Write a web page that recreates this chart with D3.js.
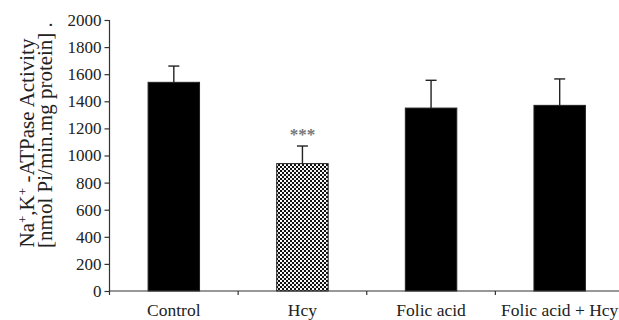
<!DOCTYPE html>
<html lang="en">
    <head>
        <meta charset="utf-8">
        <title>Na+,K+-ATPase activity</title>
        <script type="text/javascript" src="https://cdn.jsdelivr.net/npm/d3@7"></script>
        <style type="text/css">
            body { margin: 0; background: #fff; }
            text { font-family: "Liberation Serif", "Times New Roman", serif; fill: #222; }
        </style>
    </head>

    <body>
        <script type="text/javascript">
            // Data
            var groups = ["Control", "Hcy", "Folic acid", "Folic acid + Hcy"];
            var means = [1540, 940, 1350, 1370];
            var errors = [120, 130, 205, 195];
            var patterned = [false, true, false, false];
            var yTicks = [0, 200, 400, 600, 800, 1000, 1200, 1400, 1600, 1800, 2000];

            var w = 619;
            var h = 320;
            // plot edges (note: "top" is reserved on window, so use other names)
            var plotLeft = 109.5, plotRight = 624, plotTop = 20, plotBottom = 291;

            var svg = d3.select("body")
                        .append("svg")
                        .attr("width", w)
                        .attr("height", h);

            // checkerboard fill for the Hcy bar
            var pat = svg.append("defs")
                         .append("pattern")
                         .attr("id", "checks")
                         .attr("patternUnits", "userSpaceOnUse")
                         .attr("width", 4)
                         .attr("height", 4);
            pat.append("rect").attr("width", 4).attr("height", 4).attr("fill", "#111");
            pat.append("rect").attr("width", 2).attr("height", 2).attr("fill", "#fff");
            pat.append("rect").attr("x", 2).attr("y", 2).attr("width", 2).attr("height", 2).attr("fill", "#eee");

            var xScale = d3.scaleBand()
                           .domain(groups)
                           .range([plotLeft, plotRight])
                           .paddingInner(0.6)
                           .paddingOuter(0.3);
            var yScale = d3.scaleLinear()
                           .domain([0, 2000])
                           .range([plotBottom, plotTop]);

            // bars
            svg.selectAll("rect.bar")
                .data(groups)
                .enter()
                .append("rect")
                .attr("class", "bar")
                .attr("x", function(d) { return xScale(d); })
                .attr("y", function(d, i) { return yScale(means[i]); })
                .attr("width", xScale.bandwidth())
                .attr("height", function(d, i) { return yScale(0) - yScale(means[i]); })
                .attr("fill", function(d, i) { return patterned[i] ? "url(#checks)" : "#000"; })
                .attr("stroke", "#222")
                .attr("stroke-width", 1);

            // error bars (upper only)
            var eb = svg.selectAll("g.err")
                        .data(groups)
                        .enter()
                        .append("g")
                        .attr("class", "err")
                        .attr("stroke", "#222")
                        .attr("stroke-width", 1.4);
            eb.append("line")
                .attr("x1", function(d) { return xScale(d) + xScale.bandwidth() / 2; })
                .attr("x2", function(d) { return xScale(d) + xScale.bandwidth() / 2; })
                .attr("y1", function(d, i) { return yScale(means[i]); })
                .attr("y2", function(d, i) { return yScale(means[i] + errors[i]); });
            eb.append("line")
                .attr("x1", function(d) { return xScale(d) + xScale.bandwidth() / 2 - 5.5; })
                .attr("x2", function(d) { return xScale(d) + xScale.bandwidth() / 2 + 5.5; })
                .attr("y1", function(d, i) { return yScale(means[i] + errors[i]); })
                .attr("y2", function(d, i) { return yScale(means[i] + errors[i]); });

            // significance mark
            svg.append("text")
                .attr("x", xScale("Hcy") + xScale.bandwidth() / 2)
                .attr("y", yScale(means[1] + errors[1]) - 6)
                .attr("text-anchor", "middle")
                .attr("font-size", "17px")
                .attr("font-weight", "bold")
                .style("fill", "#777")
                .text("***");

            // y axis
            var yAxis = d3.axisLeft(yScale)
                          .tickValues(yTicks)
                          .tickSize(5)
                          .tickPadding(3)
                          .tickFormat(d3.format("d"));
            var gy = svg.append("g")
                        .attr("transform", "translate(" + plotLeft + ",0)")
                        .call(yAxis);
            gy.select(".domain").attr("d", "M0," + plotTop + "V" + (plotBottom + 4));
            gy.selectAll("line, path").attr("stroke", "#333").attr("stroke-width", 1.2);
            gy.selectAll("text")
                .attr("font-size", "17px")
                .style("font-family", "Liberation Serif, serif")
                .style("fill", "#222");

            // x axis: baseline with ticks between the groups
            svg.append("line")
                .attr("x1", plotLeft)
                .attr("x2", w)
                .attr("y1", plotBottom)
                .attr("y2", plotBottom)
                .attr("stroke", "#333")
                .attr("stroke-width", 1.2);
            svg.selectAll("line.xtick")
                .data(d3.range(1, groups.length))
                .enter()
                .append("line")
                .attr("class", "xtick")
                .attr("x1", function(i) { return plotLeft + xScale.step() * i; })
                .attr("x2", function(i) { return plotLeft + xScale.step() * i; })
                .attr("y1", plotBottom)
                .attr("y2", plotBottom + 4)
                .attr("stroke", "#333")
                .attr("stroke-width", 1.2);

            svg.selectAll("text.xlab")
                .data(groups)
                .enter()
                .append("text")
                .attr("class", "xlab")
                .attr("x", function(d) { return xScale(d) + xScale.bandwidth() / 2; })
                .attr("y", 316)
                .attr("text-anchor", "middle")
                .attr("font-size", "17.5px")
                .text(function(d) { return d; });

            // y axis title, two lines
            var t1 = svg.append("text")
                        .attr("transform", "translate(34,143) rotate(-90)")
                        .attr("text-anchor", "middle")
                        .attr("font-size", "21px");
            t1.append("tspan").text("Na");
            t1.append("tspan").attr("baseline-shift", "super").attr("font-size", "13px").text("+");
            t1.append("tspan").text(",K");
            t1.append("tspan").attr("baseline-shift", "super").attr("font-size", "13px").text("+");
            t1.append("tspan").text(" -ATPase Activity");

            svg.append("text")
                .attr("transform", "translate(52,135) rotate(-90)")
                .attr("text-anchor", "middle")
                .attr("font-size", "21px")
                .text("[nmol Pi/min.mg protein] .");
        </script>
    </body>
</html>
